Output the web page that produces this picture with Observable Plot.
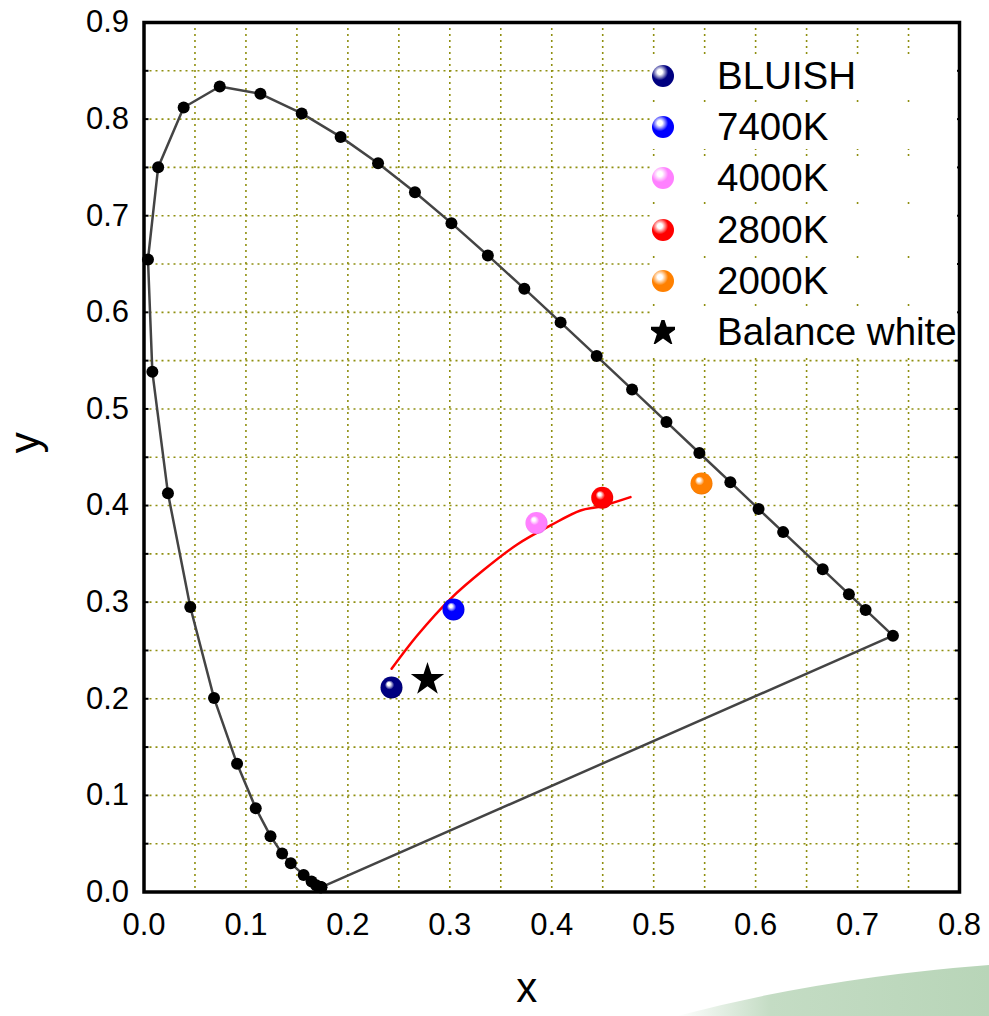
<!DOCTYPE html>
<html>
<head>
<meta charset="utf-8">
<script src="https://cdn.jsdelivr.net/npm/d3@7"></script>
<script src="https://cdn.jsdelivr.net/npm/@observablehq/plot@0.6"></script>
<style>
  body { margin: 0; background: #fff; font-family: "Liberation Sans", Arial, sans-serif; }
  #wrap { position: relative; width: 989px; height: 1016px; overflow: hidden; }
  #deco { position: absolute; left: 0; top: 0; }
  #chart { position: absolute; left: 0; top: 0; }
  #legend { position: absolute; left: 651px; top: 54px; }
  .row { display: flex; align-items: center; height: 44px; margin-bottom: 7.2px; background: #fff; }
  .sw { width: 24px; height: 24px; display: flex; align-items: center; justify-content: center; }
  .ball { width: 22px; height: 22px; border-radius: 50%; }
  .lab { margin-left: 42px; font-size: 38.5px; line-height: 44px; color: #000; white-space: nowrap; }
</style>
</head>
<body>
<div id="wrap">
  <svg id="deco" width="989" height="1016">
    <defs>
      <linearGradient id="greenfade" x1="0" x2="1" y1="0" y2="0">
        <stop offset="0%" stop-color="#ffffff"/>
        <stop offset="30%" stop-color="#c4dcc4"/>
        <stop offset="100%" stop-color="#b8d5b8"/>
      </linearGradient>
    </defs>
    <path d="M 677 1016 Q 820 978 989 965 L 989 1016 Z" fill="url(#greenfade)"/>
  </svg>
  <div id="chart"></div>
  <div id="legend"></div>
</div>
<script>
// Spectral locus (CIE 1931 chromaticity)
const locusX = [0.1741, 0.1738, 0.1733, 0.1726, 0.1714, 0.1689, 0.1644, 0.1566, 0.1440, 0.1355,
                0.1241, 0.1096, 0.0913, 0.0687, 0.0454, 0.0235, 0.0082, 0.0039, 0.0139, 0.0389,
                0.0743, 0.1142, 0.1547, 0.1929, 0.2296, 0.2658, 0.3016, 0.3373, 0.3731, 0.4087,
                0.4441, 0.4788, 0.5125, 0.5448, 0.5752, 0.6029, 0.6270, 0.6658, 0.6915, 0.7079,
                0.7347];
const locusY = [0.0050, 0.0049, 0.0048, 0.0048, 0.0051, 0.0069, 0.0109, 0.0177, 0.0297, 0.0399,
                0.0578, 0.0868, 0.1327, 0.2007, 0.2950, 0.4127, 0.5384, 0.6548, 0.7502, 0.8120,
                0.8338, 0.8262, 0.8059, 0.7816, 0.7543, 0.7243, 0.6923, 0.6589, 0.6245, 0.5896,
                0.5547, 0.5202, 0.4866, 0.4544, 0.4242, 0.3965, 0.3725, 0.3340, 0.3083, 0.2920,
                0.2653];

// Red curve (approximate Planckian locus)
const curveX = [0.2429, 0.2680, 0.3007, 0.3334, 0.3661, 0.3988, 0.4282, 0.4478, 0.4772];
const curveY = [0.2311, 0.2655, 0.3035, 0.3335, 0.3597, 0.3794, 0.3949, 0.3991, 0.4087];

// Light sources
const sampleNames  = ["BLUISH", "7400K", "4000K", "2800K", "2000K"];
const sampleX      = [0.2428, 0.3036, 0.3850, 0.4495, 0.5469];
const sampleY      = [0.2117, 0.2924, 0.3820, 0.4080, 0.4229];
const sampleColors = ["#000080", "#0000ff", "#ff80ff", "#ff0000", "#ff8000"];
const sampleDark   = ["#00004a", "#0000b0", "#d860d8", "#c00000", "#d86a00"];

// Balance white
const starName = "Balance white";
const starX = [0.2781];
const starY = [0.2200];

// Axis ticks and grid
const xTicks = [0, 0.1, 0.2, 0.3, 0.4, 0.5, 0.6, 0.7, 0.8];
const yTicks = [0, 0.1, 0.2, 0.3, 0.4, 0.5, 0.6, 0.7, 0.8, 0.9];
const xGrid = [0.05, 0.1, 0.15, 0.2, 0.25, 0.3, 0.35, 0.4, 0.45, 0.5, 0.55, 0.6, 0.65, 0.7, 0.75];
const yGrid = [0.05, 0.1, 0.15, 0.2, 0.25, 0.3, 0.35, 0.4, 0.45, 0.5, 0.55, 0.6, 0.65, 0.7, 0.75, 0.8, 0.85];

const locus = locusX.map((x, i) => ({x, y: locusY[i]}));
const locusClosed = [...locus, locus[0]];
const curve = curveX.map((x, i) => ({x, y: curveY[i]}));
const samples = sampleNames.map((name, i) => ({name, x: sampleX[i], y: sampleY[i], fill: `url(#ball${i})`}));
const star = starX.map((x, i) => ({x, y: starY[i]}));

const gridStyle = {stroke: "#8f8f10", strokeOpacity: 1, strokeWidth: 1.6, strokeDasharray: "2,4"};

const plot = Plot.plot({
  width: 989,
  height: 1016,
  marginLeft: 143.5,
  marginRight: 30,
  marginTop: 22,
  marginBottom: 124.5,
  style: {background: "transparent", fontFamily: "Liberation Sans, Arial, sans-serif", color: "black"},
  x: {domain: [0, 0.8]},
  y: {domain: [0, 0.9]},
  color: {type: "identity"},
  marks: [
    Plot.gridX(xGrid, gridStyle),
    Plot.gridY(yGrid, gridStyle),
    Plot.axisX({ticks: xTicks, tickFormat: d => d.toFixed(1), tickSize: 0, tickPadding: 21, fontSize: 31, label: null}),
    Plot.axisY({ticks: yTicks, tickFormat: d => d.toFixed(1), tickSize: 0, tickPadding: 15, fontSize: 31, label: null}),
    Plot.axisY({ticks: yGrid, tickSize: -5, tickFormat: () => "", label: null, strokeWidth: 2}),
    Plot.axisY({ticks: yGrid, anchor: "right", tickSize: -5, tickFormat: () => "", label: null, strokeWidth: 2}),
    Plot.line(locusClosed, {x: "x", y: "y", stroke: "#444", strokeWidth: 2.5}),
    Plot.dot(locus, {x: "x", y: "y", r: 6, fill: "black"}),
    Plot.line(curve, {x: "x", y: "y", stroke: "red", strokeWidth: 2.5, curve: "catmull-rom"}),
    Plot.dot(samples, {x: "x", y: "y", r: 11, fill: "fill"}),
    Plot.dot(star, {x: "x", y: "y", symbol: "star", r: 10.5, fill: "black"}),
    Plot.frame({stroke: "black", strokeWidth: 3.5}),
    Plot.text(["x"], {text: d => d, frameAnchor: "bottom", dx: -25, dy: 110, fontSize: 42}),
    Plot.text(["y"], {text: d => d, frameAnchor: "left", dx: -118, dy: -4, rotate: -90, fontSize: 42})
  ]
});

// Sphere gradients
const defs = d3.select(plot).insert("defs", ":first-child");
sampleColors.forEach((c, i) => {
  const g = defs.append("radialGradient").attr("id", `ball${i}`)
    .attr("cx", "50%").attr("cy", "50%").attr("r", "55%").attr("fx", "36%").attr("fy", "32%");
  g.append("stop").attr("offset", "0%").attr("stop-color", "#ffffff");
  g.append("stop").attr("offset", "12%").attr("stop-color", "#ffffff").attr("stop-opacity", 0.85);
  g.append("stop").attr("offset", "38%").attr("stop-color", c);
  g.append("stop").attr("offset", "85%").attr("stop-color", c);
  g.append("stop").attr("offset", "100%").attr("stop-color", sampleDark[i]);
});

document.getElementById("chart").appendChild(plot);

// Legend
const legend = document.getElementById("legend");
sampleNames.forEach((name, i) => {
  const row = document.createElement("div");
  row.className = "row";
  row.innerHTML = `<div class="sw"><div class="ball" style="background: radial-gradient(circle at 36% 32%, #fff 0%, rgba(255,255,255,0.85) 12%, ${sampleColors[i]} 40%, ${sampleColors[i]} 80%, ${sampleDark[i]} 100%)"></div></div><div class="lab">${name}</div>`;
  legend.appendChild(row);
});
const starPath = d3.symbol(d3.symbolStar, Math.PI * 100)();
const srow = document.createElement("div");
srow.className = "row";
srow.innerHTML = `<div class="sw"><svg width="24" height="24" viewBox="-12 -12 24 24"><path d="${starPath}" fill="black"/></svg></div><div class="lab">${starName}</div>`;
legend.appendChild(srow);
</script>
</body>
</html>
